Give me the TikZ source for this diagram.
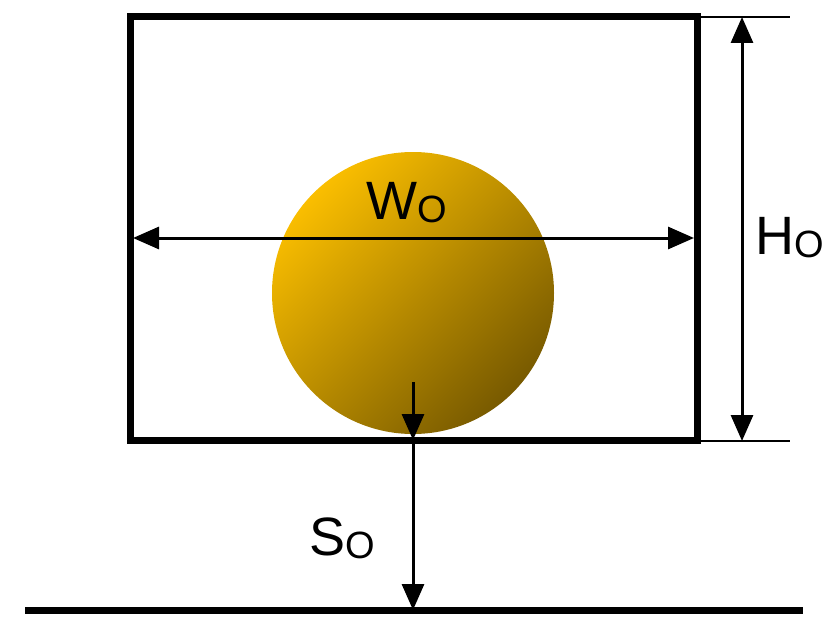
\documentclass[tikz,border=0pt]{standalone}
\usepackage{fontspec}
\setmainfont{Liberation Sans}
\usetikzlibrary{arrows.meta}
\begin{document}
\begin{tikzpicture}[x=1pt,y=-1pt,
  dim/.style={line width=3pt,{Triangle[length=26pt,width=22pt]}-{Triangle[length=26pt,width=22pt]}},
  one/.style={line width=3pt,-{Triangle[length=26pt,width=22pt]}},
  lbl/.style={font=\fontsize{54}{54}\selectfont,inner sep=0pt}]
\useasboundingbox (0,0) rectangle (833,634);
\shade[left color={rgb,255:red,250;green,190;blue,0}, right color={rgb,255:red,120;green,90;blue,0}, shading angle=45] (413,293) circle (141);
\node[draw,line width=7pt,minimum width=567pt,minimum height=423pt,inner sep=0pt] (box) at (413.5,228.5) {};
\coordinate (wl) at (133,238); \coordinate (wr) at (694,238);
\draw[dim] (wl) -- (wr);
\node[lbl] (w) at (407,203) {W\raisebox{-3pt}{\fontsize{38}{38}\selectfont O}};
\coordinate (t1) at (700,17); \coordinate (t2) at (790,17);
\coordinate (b1) at (700,441); \coordinate (b2) at (790,441);
\draw[line width=2pt] (t1) -- (t2) (b1) -- (b2);
\coordinate (ht) at (742,17); \coordinate (hb) at (742,441);
\draw[dim] (ht) -- (hb);
\node[lbl] (h) at (790,238) {H\raisebox{-3pt}{\fontsize{38}{38}\selectfont O}};
\coordinate (s0) at (413,382); \coordinate (s1) at (413,440); \coordinate (s2) at (413,610);
\draw[one] (s0) -- (s1);
\draw[one] (s1) -- (s2);
\coordinate (g1) at (25,610); \coordinate (g2) at (803,610);
\draw[line width=7pt] (g1) -- (g2);
\node[lbl] (s) at (342,538) {S\raisebox{-3pt}{\fontsize{38}{38}\selectfont O}};
\end{tikzpicture}
\end{document}
